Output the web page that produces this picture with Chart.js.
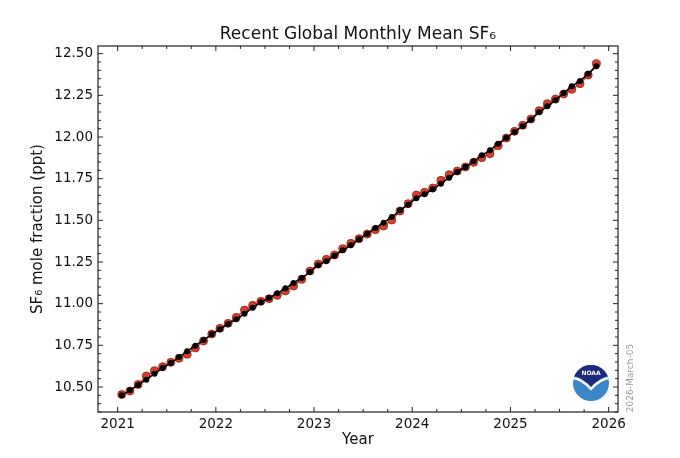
<!DOCTYPE html>
<html>
<head>
<meta charset="utf-8">
<script src="https://cdn.jsdelivr.net/npm/chart.js@4.4.1/dist/chart.umd.min.js"></script>
<style>
body { margin: 0; background: #fff; }
#wrap { width: 680px; height: 458px; }
</style>
</head>
<body>
<div id="wrap"><canvas id="sf6Chart"></canvas></div>
<script>
// monthly values, Jan 2021 .. Nov 2025
const firstYear = 2021;
const monthlyMean = [
    10.455, 10.476, 10.515, 10.566, 10.598, 10.622, 10.648, 10.672, 10.696, 10.734, 10.776, 10.818,
    10.852, 10.882, 10.918, 10.962, 10.990, 11.014, 11.030, 11.050, 11.076, 11.106, 11.146, 11.196,
    11.238, 11.266, 11.292, 11.330, 11.362, 11.390, 11.418, 11.444, 11.466, 11.502, 11.556, 11.600,
    11.652, 11.668, 11.694, 11.740, 11.774, 11.796, 11.820, 11.848, 11.876, 11.900, 11.948, 11.994,
    12.034, 12.070, 12.108, 12.158, 12.200, 12.228, 12.258, 12.286, 12.320, 12.372, 12.440
];
const trendValues = [
    10.450, 10.480, 10.512, 10.544, 10.580, 10.614, 10.644, 10.680, 10.714, 10.748, 10.782, 10.816,
    10.847, 10.878, 10.906, 10.940, 10.976, 11.008, 11.034, 11.062, 11.092, 11.124, 11.154, 11.190,
    11.230, 11.255, 11.288, 11.320, 11.350, 11.386, 11.420, 11.454, 11.486, 11.520, 11.560, 11.594,
    11.633, 11.657, 11.686, 11.720, 11.756, 11.790, 11.820, 11.854, 11.890, 11.920, 11.960, 11.995,
    12.030, 12.066, 12.104, 12.148, 12.184, 12.220, 12.264, 12.304, 12.336, 12.380, 12.424
];
const yearTicks = [2021, 2022, 2023, 2024, 2025, 2026];
const pptTicks = [10.50, 10.75, 11.00, 11.25, 11.50, 11.75, 12.00, 12.25, 12.50];

const decYear = monthlyMean.map((_, i) => firstYear + (i + 0.5) / 12);
const toPoints = vals => vals.map((v, i) => ({ x: decYear[i], y: v }));

const fam = "'DejaVu Sans', sans-serif";

// matplotlib style box with inward major/minor ticks
const inwardTicks = {
    id: 'inwardTicks',
    afterDraw(chart) {
        const { ctx, chartArea: a, scales: { x, y } } = chart;
        ctx.save();
        ctx.strokeStyle = '#222';
        ctx.lineWidth = 1.2;
        ctx.strokeRect(a.left, a.top, a.right - a.left, a.bottom - a.top);
        ctx.lineWidth = 1;
        ctx.beginPath();
        for (let k = Math.ceil(x.min * 4); k <= Math.floor(x.max * 4); k++) {
            const p = x.getPixelForValue(k / 4);
            const len = k % 4 === 0 ? 5 : 3;
            ctx.moveTo(p, a.bottom); ctx.lineTo(p, a.bottom - len);
            ctx.moveTo(p, a.top); ctx.lineTo(p, a.top + len);
        }
        for (let k = Math.ceil(y.min * 20); k <= Math.floor(y.max * 20); k++) {
            const p = y.getPixelForValue(k / 20);
            const len = k % 5 === 0 ? 5 : 3;
            ctx.moveTo(a.left, p); ctx.lineTo(a.left + len, p);
            ctx.moveTo(a.right, p); ctx.lineTo(a.right - len, p);
        }
        ctx.stroke();
        ctx.restore();
    }
};

const noaaMark = {
    id: 'noaaMark',
    afterDraw(chart) {
        const ctx = chart.ctx;
        const cx = 591, cy = 383, r = 18;
        ctx.save();
        ctx.beginPath();
        ctx.arc(cx, cy, r, 0, Math.PI * 2);
        ctx.fillStyle = '#3a86c8';
        ctx.fill();
        ctx.clip();
        ctx.beginPath();
        ctx.moveTo(cx - r, cy - r);
        ctx.lineTo(cx + r, cy - r);
        ctx.lineTo(cx + r, cy - 7);
        ctx.quadraticCurveTo(cx + 9, cy - 6, cx, cy + 4);
        ctx.quadraticCurveTo(cx - 9, cy - 6, cx - r, cy - 7);
        ctx.closePath();
        ctx.fillStyle = '#1d2b7c';
        ctx.fill();
        ctx.strokeStyle = '#fff';
        ctx.lineWidth = 2.5;
        ctx.beginPath();
        ctx.moveTo(cx - r, cy - 5);
        ctx.quadraticCurveTo(cx - 9, cy - 4, cx, cy + 6);
        ctx.quadraticCurveTo(cx + 9, cy - 4, cx + r, cy - 5);
        ctx.stroke();
        ctx.restore();
        ctx.save();
        ctx.fillStyle = '#fff';
        ctx.font = "bold 6px " + fam;
        ctx.textAlign = 'center';
        ctx.textBaseline = 'middle';
        ctx.fillText('NOAA', cx, cy - 10);
        ctx.translate(631, 378);
        ctx.rotate(-Math.PI / 2);
        ctx.fillStyle = '#9a9a9a';
        ctx.font = "9px " + fam;
        ctx.fillText('2026-March-05', 0, 0);
        ctx.restore();
    }
};

new Chart(document.getElementById('sf6Chart'), {
    type: 'scatter',
    data: {
        datasets: [{
            label: 'Monthly mean',
            data: toPoints(monthlyMean),
            showLine: true,
            borderColor: '#d8402c',
            borderWidth: 1.5,
            pointRadius: 4,
            pointBackgroundColor: '#d8402c',
            pointBorderColor: '#8e1f12',
            pointBorderWidth: 0.8,
            order: 2
        }, {
            label: 'Trend',
            data: toPoints(trendValues),
            showLine: true,
            borderColor: '#000',
            borderWidth: 1.5,
            pointRadius: 3,
            pointBackgroundColor: '#000',
            pointBorderColor: '#000',
            pointBorderWidth: 0,
            order: 1
        }]
    },
    options: {
        responsive: true,
        maintainAspectRatio: false,
        animation: false,
        layout: { padding: { left: 0, right: 62, top: 0, bottom: 0 } },
        plugins: {
            legend: { display: false },
            tooltip: { enabled: false },
            title: {
                display: true,
                text: 'Recent Global Monthly Mean SF₆',
                fullSize: false,
                color: '#111',
                font: { family: fam, size: 17, weight: 'normal' },
                padding: { top: 24, bottom: 1.6 }
            }
        },
        scales: {
            x: {
                type: 'linear',
                min: 2020.8,
                max: 2026.095,
                grid: { display: false, drawTicks: false },
                border: { display: false },
                afterBuildTicks: s => { s.ticks = yearTicks.map(v => ({ value: v })); },
                afterFit: s => { s.height = 46; },
                ticks: {
                    callback: v => String(v),
                    padding: 4,
                    color: '#111',
                    maxRotation: 0,
                    autoSkip: false,
                    font: { family: fam, size: 13.5 }
                },
                title: {
                    display: true,
                    text: 'Year',
                    color: '#111',
                    padding: { top: 0, bottom: 9 },
                    font: { family: fam, size: 15 }
                }
            },
            y: {
                min: 10.35,
                max: 12.546,
                grid: { display: false, drawTicks: false },
                border: { display: false },
                afterBuildTicks: s => { s.ticks = pptTicks.map(v => ({ value: v })); },
                afterFit: s => { s.width = 98; },
                ticks: {
                    callback: v => v.toFixed(2),
                    padding: 5,
                    color: '#111',
                    autoSkip: false,
                    font: { family: fam, size: 13.5 }
                },
                title: {
                    display: true,
                    text: 'SF₆ mole fraction (ppt)',
                    color: '#111',
                    padding: { top: 29, bottom: 0 },
                    font: { family: fam, size: 15 }
                }
            }
        }
    },
    plugins: [inwardTicks, noaaMark]
});
</script>
</body>
</html>
